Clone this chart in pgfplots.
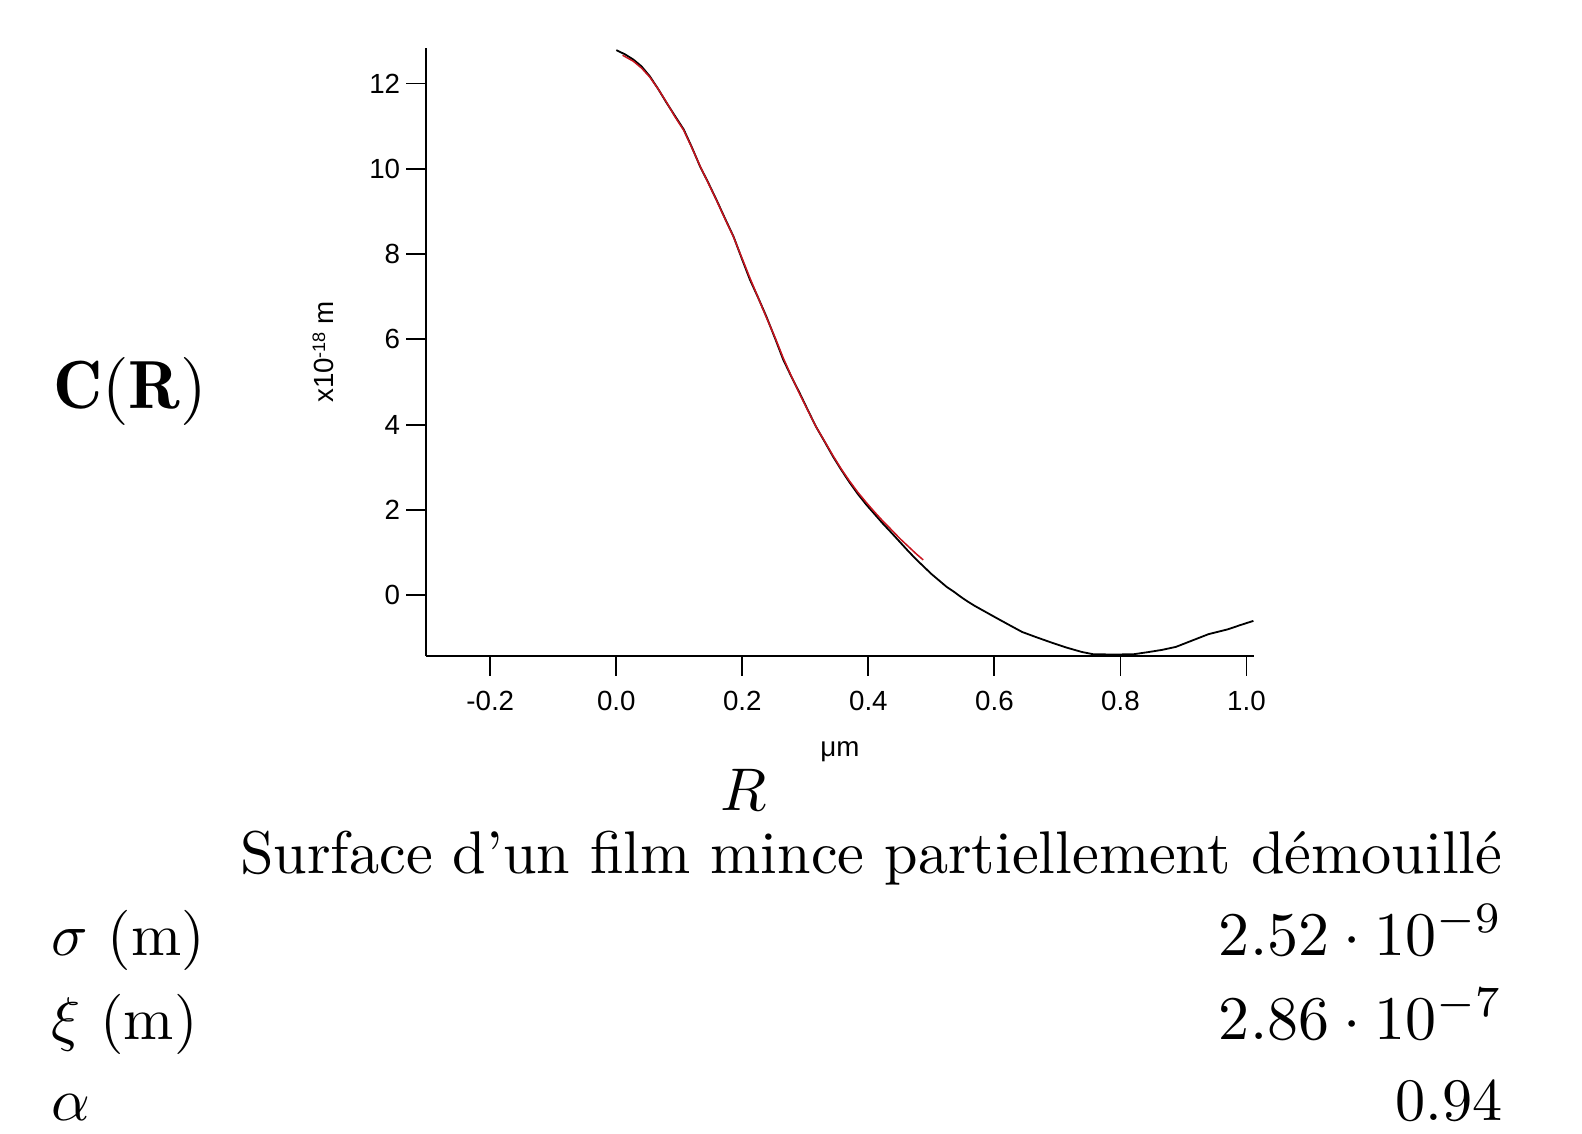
\documentclass[border=0pt]{standalone}
\usepackage{fontspec}
\usepackage{pgfplots}
\pgfplotsset{compat=1.18}
\newfontfamily\igor{Liberation Sans}
\definecolor{fitred}{RGB}{200,20,30}
\begin{document}
\begin{tikzpicture}[x=0.166pt,y=0.166pt]
\path (0,0) rectangle (1582,1133);
\begin{axis}[
  at={(70.716pt,79.182pt)}, anchor=south west,
  scale only axis, width=137.45pt, height=100.93pt,
  xmin=-0.302, xmax=1.012, ymin=-1.424, ymax=12.83,
  axis lines=left,
  axis line style={-, black, line width=0.3pt},
  tick align=outside, major tick length=3.3pt,
  tick style={black, line width=0.3pt},
  xtick={-0.2,0,0.2,0.4,0.6,0.8,1.0},
  xticklabels={-0.2,0.0,0.2,0.4,0.6,0.8,1.0},
  ytick={0,2,4,6,8,10,12},
  yticklabels={0,2,4,6,8,10,12},
  tick label style={font=\igor\fontsize{4.6}{5}\selectfont, inner sep=0.8pt},
  xticklabel style={yshift=-1.5pt},
  xlabel={μm},
  ylabel={x10\raisebox{1.3pt}{\fontsize{3}{3}\selectfont -18} m},
  label style={font=\igor\fontsize{4.6}{5}\selectfont},
  xlabel style={at={(axis description cs:0.5,0)}, anchor=center, yshift=-15.8pt},
  ylabel style={at={(axis description cs:0,0.5)}, anchor=center, yshift=17.1pt},
]
\addplot[black, line width=0.3pt] coordinates {
(0.000,12.78) (0.014,12.68) (0.027,12.56) (0.040,12.40) (0.053,12.17)
(0.066,11.88) (0.080,11.54) (0.093,11.24) (0.107,10.92) (0.120,10.50)
(0.133,10.05) (0.146,9.67) (0.159,9.27) (0.172,8.85) (0.186,8.41)
(0.199,7.90) (0.212,7.40) (0.225,6.98) (0.238,6.54) (0.252,6.02)
(0.265,5.52) (0.278,5.12) (0.291,4.74) (0.304,4.34) (0.317,3.95)
(0.331,3.59) (0.344,3.25) (0.357,2.94) (0.370,2.65) (0.383,2.38)
(0.397,2.12) (0.410,1.90) (0.423,1.68) (0.437,1.46) (0.450,1.25)
(0.463,1.04) (0.476,0.84) (0.488,0.67) (0.500,0.50) (0.512,0.35)
(0.524,0.20) (0.536,0.08) (0.547,-0.04) (0.558,-0.15) (0.569,-0.25)
(0.586,-0.39) (0.603,-0.53) (0.624,-0.70) (0.644,-0.86) (0.666,-0.98)
(0.687,-1.09) (0.713,-1.22) (0.739,-1.33) (0.756,-1.38) (0.790,-1.39)
(0.822,-1.38) (0.845,-1.33) (0.866,-1.28) (0.888,-1.21) (0.914,-1.06)
(0.940,-0.91) (0.970,-0.80) (0.990,-0.70) (1.011,-0.60)
};
\addplot[fitred, line width=0.25pt] coordinates {
(0.010,12.66) (0.027,12.52) (0.040,12.36) (0.053,12.15)
(0.066,11.88) (0.080,11.55) (0.093,11.22) (0.107,10.90) (0.120,10.49)
(0.133,10.06) (0.146,9.66) (0.159,9.26) (0.172,8.84) (0.186,8.40)
(0.199,7.92) (0.212,7.44) (0.225,6.98) (0.238,6.52) (0.252,6.04)
(0.265,5.56) (0.278,5.13) (0.291,4.72) (0.304,4.33) (0.317,3.95)
(0.331,3.60) (0.344,3.27) (0.357,2.96) (0.370,2.68) (0.383,2.42)
(0.397,2.17) (0.410,1.95) (0.423,1.74) (0.437,1.53) (0.450,1.33)
(0.463,1.15) (0.476,0.97) (0.487,0.83)
};
\end{axis}
\node[anchor=base west, inner sep=0pt, scale=1.13] at (52,725) {$\mathbf{C}(\mathbf{R})$};
\node[anchor=base, inner sep=0pt] at (744,323) {$R$};
\node[anchor=base west, inner sep=0pt] at (239,260) {Surface d’un film mince partiellement démouillé};
\node[anchor=base west, inner sep=0pt] at (50,178) {$\sigma$ (m)};
\node[anchor=base west, inner sep=0pt] at (50,94) {$\xi$ (m)};
\node[anchor=base west, inner sep=0pt] at (50,13) {$\alpha$};
\node[anchor=base east, inner sep=0pt, scale=1.03] at (1504,178) {$2.52\cdot10^{-9}$};
\node[anchor=base east, inner sep=0pt, scale=1.03] at (1504,94) {$2.86\cdot10^{-7}$};
\node[anchor=base east, inner sep=0pt] at (1504,13) {$0.94$};
\end{tikzpicture}
\end{document}
